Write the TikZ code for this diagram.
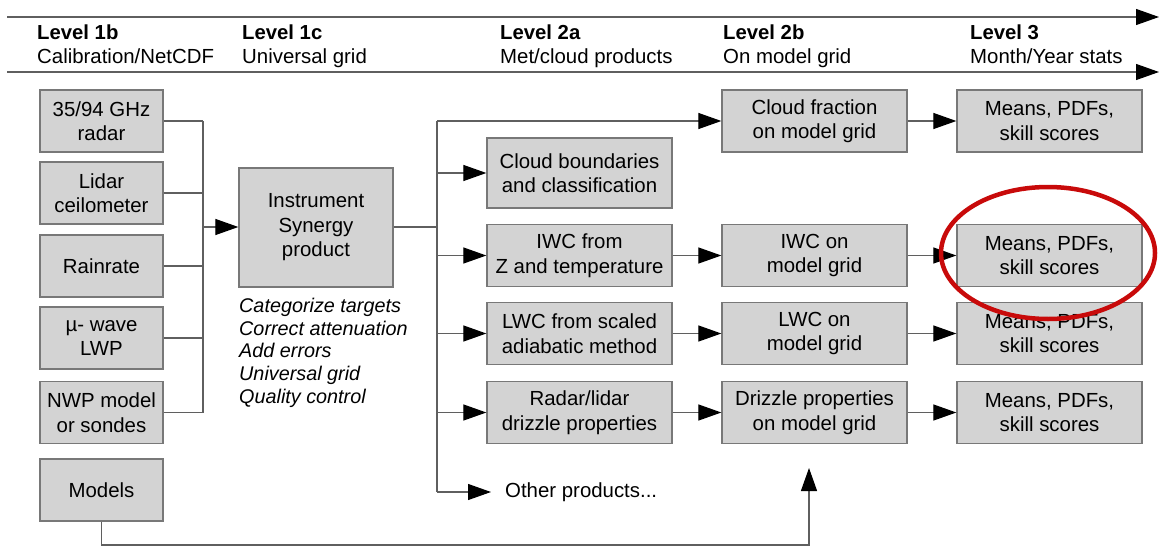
\documentclass[tikz,border=0pt]{standalone}
\usepackage{fontspec}
\setmainfont{Liberation Sans}
\usetikzlibrary{arrows.meta}
\definecolor{boxfill}{RGB}{211,211,211}
\definecolor{boxline}{RGB}{120,120,120}
\definecolor{conn}{RGB}{95,95,95}
\definecolor{ringred}{RGB}{200,10,10}
\begin{document}
\begin{tikzpicture}[x=1pt,y=-1pt,
  every node/.style={font=\fontsize{20.4pt}{24.5pt}\selectfont},
  box/.style={draw=boxline, fill=boxfill, line width=1.3pt, align=center, inner sep=0pt},
  srcbox/.style={box, minimum width=123pt, minimum height=62pt},
  prodbox/.style={box, minimum width=185pt, minimum height=62pt},
  hdr/.style={anchor=base west, inner sep=0pt},
  hdrb/.style={hdr, font=\fontsize{20.3pt}{24pt}\selectfont\bfseries},
  line/.style={draw=conn, line width=1.2pt},
  arr/.style={line, -{Triangle[length=23pt,width=16pt,fill=black,color=black]}}]
\useasboundingbox (0,0) rectangle (1159,546);

% header
\coordinate (h1s) at (7,17);
\coordinate (h1e) at (1159,17);
\coordinate (h2s) at (7,72);
\coordinate (h2e) at (1159,72);
\draw[arr] (h1s) -- (h1e);
\draw[arr] (h2s) -- (h2e);
\node[hdrb] (l1b) at (37,39) {Level 1b};
\node[hdr]  (l1bt) at (37,63) {Calibration/NetCDF};
\node[hdrb] (l1c) at (242,39) {Level 1c};
\node[hdr]  (l1ct) at (242,63) {Universal grid};
\node[hdrb] (l2a) at (500,39) {Level 2a};
\node[hdr]  (l2at) at (500,63) {Met/cloud products};
\node[hdrb] (l2b) at (723,39) {Level 2b};
\node[hdr]  (l2bt) at (723,63) {On model grid};
\node[hdrb] (l3) at (970,39) {Level 3};
\node[hdr]  (l3t) at (970,63) {Month/Year stats};

% sources
\node[srcbox] (radar) at (101.5,121) {35/94 GHz\\radar};
\node[srcbox] (lidar) at (101.5,193) {Lidar\\ceilometer};
\node[srcbox] (rain) at (101.5,266) {Rainrate};
\node[srcbox] (mu) at (101.5,338) {µ- wave\\LWP};
\node[srcbox] (nwp) at (101.5,412.5) {NWP model\\or sondes};
\node[srcbox] (models) at (101.5,490) {Models};

% synergy
\node[box, minimum width=154pt, minimum height=119pt] (syn) at (316,227.5) {Instrument\\Synergy\\product};
\node[anchor=north west, inner sep=0pt, align=left, font=\fontsize{19.8pt}{22.7pt}\selectfont\itshape] (notes) at (239,298)
  {Categorize targets\\Correct attenuation\\Add errors\\Universal grid\\Quality control};

% level 2a
\node[box, minimum width=185pt, minimum height=70pt] (cb) at (579.5,173) {Cloud boundaries\\and classification};
\node[prodbox] (iwcz) at (579.5,255.5) {IWC from\\Z and temperature};
\node[prodbox] (lwcs) at (579.5,333.5) {LWC from scaled\\adiabatic method};
\node[prodbox] (drz) at (579.5,412.5) {Radar/lidar\\drizzle properties};
\node[anchor=west, inner sep=0pt, inner xsep=14pt] (other) at (491,492) {Other products...};

% level 2b
\node[prodbox] (cf) at (814.5,121) {Cloud fraction\\on model grid};
\node[prodbox] (iwcm) at (814.5,255.5) {IWC on\\model grid};
\node[prodbox] (lwcm) at (814.5,333.5) {LWC on\\model grid};
\node[prodbox] (drzm) at (814.5,412.5) {Drizzle properties\\on model grid};

% level 3
\node[prodbox] (s1) at (1049.5,121) {Means, PDFs,\\skill scores};
\node[prodbox] (s2) at (1049.5,255.5) {Means, PDFs,\\skill scores};
\node[prodbox] (s3) at (1049.5,333.5) {Means, PDFs,\\skill scores};
\node[prodbox] (s4) at (1049.5,412.5) {Means, PDFs,\\skill scores};

% bus 1
\coordinate (b1) at (203,227);
\foreach \s in {radar,lidar,rain,mu,nwp} \draw[line] (\s.east) -- (\s.east -| b1);
\draw[line] (radar.east -| b1) -- (nwp.east -| b1);
\draw[arr] (b1) -- (syn.west |- b1);

% bus 2
\coordinate (b2) at (437,227);
\draw[line] (syn.east |- b2) -- (b2);
\draw[line] (cf.west -| b2) -- (other.west -| b2);
\draw[arr] (cf.west -| b2) -- (cf.west);
\foreach \t in {cb,iwcz,lwcs,drz} \draw[arr] (\t.west -| b2) -- (\t.west);
\draw[arr] (other.west -| b2) -- (other.west);

% level 2a -> 2b -> 3
\draw[arr] (iwcz.east) -- (iwcm.west);
\draw[arr] (lwcs.east) -- (lwcm.west);
\draw[arr] (drz.east) -- (drzm.west);
\draw[arr] (cf.east) -- (s1.west);
\draw[arr] (iwcm.east) -- (s2.west);
\draw[arr] (lwcm.east) -- (s3.west);
\draw[arr] (drzm.east) -- (s4.west);

% models feed
\coordinate (mtip) at (809,468);
\draw[arr] (models.south) -- (models.south |- 0,545) -- (mtip |- 0,545) -- (mtip);

% highlight ring
\draw[ringred, line width=4.5pt] (1048,253) ellipse [x radius=107, y radius=66];
\end{tikzpicture}
\end{document}
